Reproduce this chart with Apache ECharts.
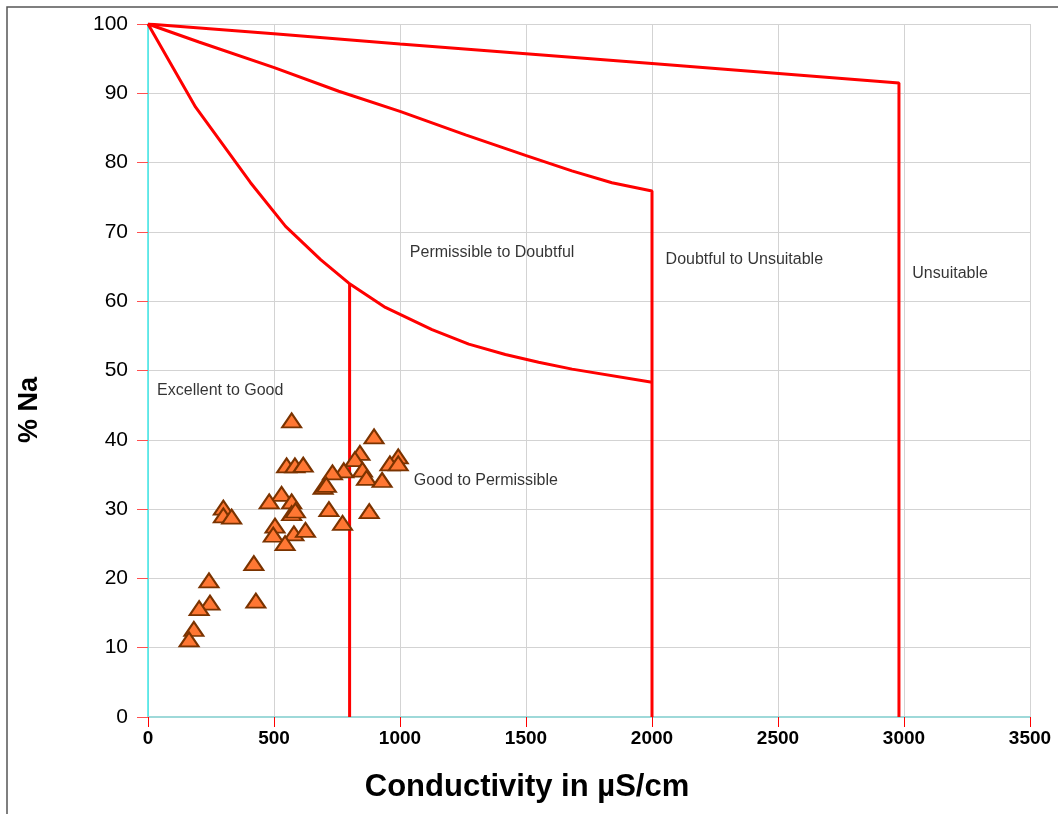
<!DOCTYPE html>
<html>
<head>
<meta charset="utf-8">
<script src="https://cdn.jsdelivr.net/npm/echarts@6/dist/echarts.min.js"></script>
<style>
html,body{margin:0;padding:0;background:#fff;}
#chart{width:1058px;height:814px;}
</style>
</head>
<body>
<div id="chart"></div>
<script>
// Sample points: conductivity (µS/cm) and % Na
var ecX = [570, 897, 841, 821, 993, 960, 993, 550, 583, 616, 777, 732, 851, 867, 929, 695, 708, 530, 481, 570, 299, 299, 332, 570, 585, 718, 878, 772, 504, 497, 579, 625, 544, 420, 242, 246, 203, 428, 182, 163];
var naY = [42.8, 40.5, 38.1, 37.2, 37.6, 36.6, 36.6, 36.3, 36.3, 36.4, 35.6, 35.3, 35.7, 34.5, 34.2, 33.2, 33.5, 32.2, 31.1, 31.1, 30.2, 29.1, 28.9, 29.4, 29.8, 30.0, 29.7, 28.0, 27.6, 26.3, 26.5, 27.0, 25.1, 22.2, 19.7, 16.5, 15.7, 16.8, 12.7, 11.2];

// Boundary lines of the Wilcox diagram
var line1X = [0, 500, 1000, 1500, 2000, 2980, 2980];
var line1Y = [100, 98.6, 97.1, 95.7, 94.3, 91.5, 0];
var line2X = [0, 202, 501, 757, 1000, 1260, 1501, 1682, 1841, 2000, 2000];
var line2Y = [100, 97.4, 93.7, 90.3, 87.4, 84.0, 81.0, 78.8, 77.1, 75.9, 0];
var line3X = [0, 189, 407, 546, 685, 797, 942, 1127, 1273, 1418, 1550, 1683, 2000];
var line3Y = [100, 88.0, 77.1, 70.8, 66.0, 62.6, 59.1, 55.9, 53.8, 52.3, 51.2, 50.2, 48.3];
var line4X = [800, 800];
var line4Y = [62.6, 0];

// Region labels
var regionNames = ['Excellent to Good', 'Permissible to Doubtful', 'Doubtful to Unsuitable', 'Good to Permissible', 'Unsuitable'];
var regionX = [36, 1039, 2054, 1055, 3033];
var regionY = [47.1, 67.0, 66.0, 34.1, 64.0];

// Axis ticks and titles
var xTicks = [0, 500, 1000, 1500, 2000, 2500, 3000, 3500];
var yTicks = [0, 10, 20, 30, 40, 50, 60, 70, 80, 90, 100];
var xTitle = 'Conductivity in µS/cm';
var yTitle = '% Na';

function zip(a, b) { return a.map(function (v, i) { return [v, b[i]]; }); }

var FONT = 'Liberation Sans, Arial, sans-serif';
var lineStyle = { color: '#FF0000', width: 3 };
function boundary(xs, ys) {
  return { type: 'line', data: zip(xs, ys), symbol: 'none', lineStyle: lineStyle, silent: true, animation: false, z: 3 };
}

var chart = echarts.init(document.getElementById('chart'));
chart.setOption({
  animation: false,
  backgroundColor: '#fff',
  textStyle: { fontFamily: FONT },
  graphic: [{
    type: 'rect', shape: { x: 7, y: 7, width: 1100, height: 900 },
    style: { fill: 'none', stroke: '#555', lineWidth: 1.5 }, silent: true, z: -10
  }, {
    type: 'text', x: 527, y: 787, silent: true,
    style: { text: xTitle, fontSize: 31, fontWeight: 'bold', fill: '#000', font: 'bold 31px ' + FONT, textAlign: 'center', textVerticalAlign: 'middle' }
  }, {
    type: 'text', x: 30, y: 410, rotation: Math.PI / 2, silent: true,
    style: { text: yTitle, fontSize: 27, fontWeight: 'bold', fill: '#000', font: 'bold 27px ' + FONT, textAlign: 'center', textVerticalAlign: 'middle' }
  }],
  grid: { left: 148, right: 28, top: 24, bottom: 97 },
  xAxis: {
    type: 'value', min: xTicks[0], max: xTicks[xTicks.length - 1], interval: xTicks[1] - xTicks[0],
    axisLine: { show: true, onZero: false, lineStyle: { color: '#9ED9D9', width: 2 } },
    axisTick: { show: true, length: 10, lineStyle: { color: '#FF0000', width: 1 } },
    axisLabel: { fontSize: 19, fontWeight: 'bold', color: '#000', margin: 12, fontFamily: FONT, formatter: function (v) { return String(v); } },
    splitLine: { show: true, lineStyle: { color: '#D3D3D3', width: 1 } }
  },
  yAxis: {
    type: 'value', min: yTicks[0], max: yTicks[yTicks.length - 1], interval: yTicks[1] - yTicks[0],
    axisLine: { show: true, onZero: false, lineStyle: { color: '#3DE8E8', width: 1.5 } },
    axisTick: { show: true, length: 11, lineStyle: { color: '#FF5050', width: 1 } },
    axisLabel: { fontSize: 21, color: '#000', margin: 20, fontFamily: FONT, formatter: function (v) { return String(v); } },
    splitLine: { show: true, lineStyle: { color: '#D3D3D3', width: 1 } }
  },
  series: [
    boundary(line1X, line1Y),
    boundary(line2X, line2Y),
    boundary(line3X, line3Y),
    boundary(line4X, line4Y),
    {
      type: 'scatter', data: zip(ecX, naY), symbol: 'triangle', symbolSize: [19, 14],
      itemStyle: { color: '#FF7733', borderColor: '#7A3300', borderWidth: 2, opacity: 1 },
      z: 5, silent: true
    },
    {
      type: 'scatter', symbolSize: 0, silent: true, z: 6,
      data: regionNames.map(function (n, i) { return { name: n, value: [regionX[i], regionY[i]] }; }),
      label: { show: true, position: 'right', distance: 0, formatter: '{b}', fontSize: 16, color: '#000', fontFamily: FONT }
    }
  ]
});
</script>
</body>
</html>
